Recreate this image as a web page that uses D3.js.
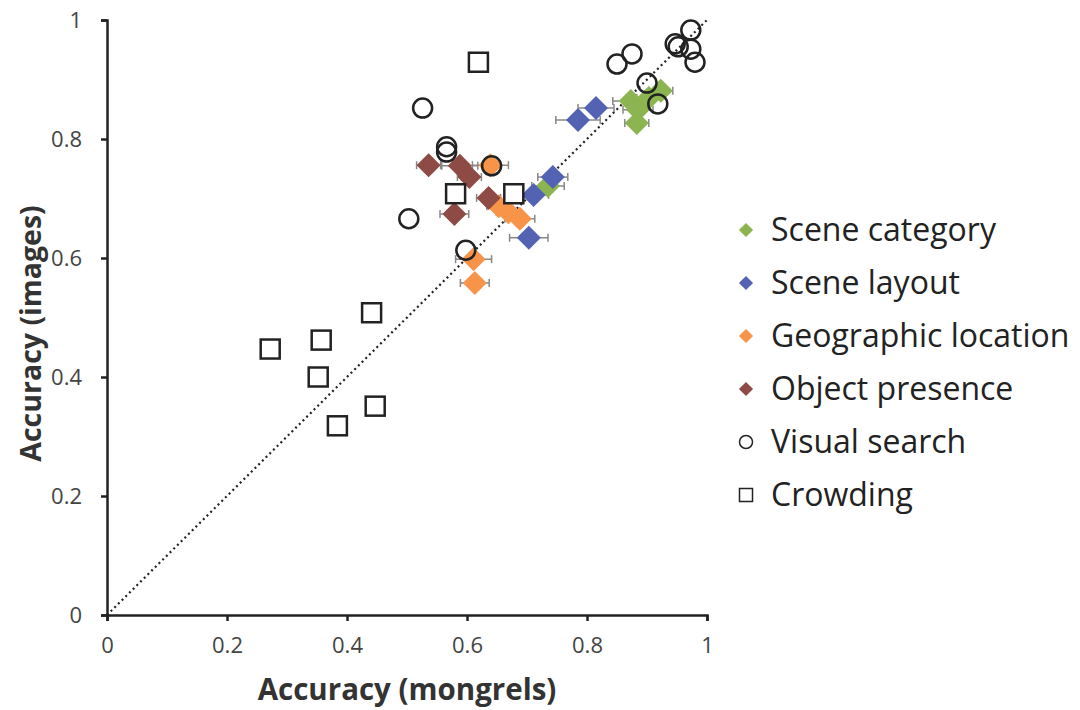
<!DOCTYPE html>
<html>
<head>
<meta charset="utf-8">
<script src="https://cdn.jsdelivr.net/npm/d3@7"></script>
<style>
  body { margin: 0; background: #fff; }
  svg { font-family: 'Open Sans', Lato, sans-serif; }
</style>
</head>
<body>
<script>
// Data (accuracy on mongrels vs images)
const SERIES = ['Scene category', 'Scene layout', 'Geographic location', 'Object presence', 'Visual search', 'Crowding']
const SHAPES = ['diamond', 'diamond', 'diamond', 'diamond', 'circle', 'square']
const COLORS = ['#8cb450', '#5462b4', '#f7944a', '#8e4b46', '#222', '#222']
const TICKS = [0, 0.2, 0.4, 0.6, 0.8, 1]

const sceneCategoryX = [0.735, 0.873, 0.885, 0.903, 0.923, 0.883]
const sceneCategoryY = [0.721, 0.864, 0.849, 0.869, 0.881, 0.827]
const sceneCategoryErr = [0.027, 0.03, 0.025, 0.02, 0.02, 0.02]

const sceneLayoutX = [0.815, 0.785, 0.743, 0.711, 0.703]
const sceneLayoutY = [0.852, 0.832, 0.736, 0.706, 0.634]
const sceneLayoutErr = [0.03, 0.037, 0.025, 0.025, 0.032]

const geoX = [0.639, 0.653, 0.669, 0.688, 0.611, 0.613]
const geoY = [0.756, 0.687, 0.677, 0.666, 0.598, 0.558]
const geoErr = [0.03, 0.02, 0.02, 0.025, 0.03, 0.024]

const objectX = [0.536, 0.588, 0.604, 0.636, 0.579]
const objectY = [0.756, 0.755, 0.736, 0.701, 0.674]
const objectErr = [0.02, 0.03, 0.02, 0.02, 0.024]

const searchX = [0.526, 0.566, 0.566, 0.503, 0.598, 0.641, 0.850, 0.875, 0.900, 0.918, 0.947, 0.952, 0.973, 0.973, 0.980]
const searchY = [0.852, 0.787, 0.778, 0.666, 0.613, 0.755, 0.926, 0.943, 0.894, 0.859, 0.960, 0.955, 0.983, 0.951, 0.929]

const crowdingX = [0.619, 0.581, 0.678, 0.441, 0.272, 0.357, 0.352, 0.447, 0.384]
const crowdingY = [0.929, 0.708, 0.708, 0.508, 0.447, 0.462, 0.400, 0.351, 0.318]

const xs = [sceneCategoryX, sceneLayoutX, geoX, objectX, searchX, crowdingX]
const ys = [sceneCategoryY, sceneLayoutY, geoY, objectY, searchY, crowdingY]
const errs = [sceneCategoryErr, sceneLayoutErr, geoErr, objectErr, null, null]

// Build point table
const points = []
SERIES.forEach((name, s) => {
  xs[s].forEach((x, i) => {
    points.push({ series: s, x: x, y: ys[s][i], err: errs[s] ? errs[s][i] : 0 })
  })
})

// Initialization
const width = 1080
const height = 710
const margin = { left: 107, right: 374, top: 20, bottom: 95 }

const svg = d3.select('body').append('svg')
  .attr('width', width)
  .attr('height', height)

const x = d3.scaleLinear().domain([0, 1]).range([margin.left, width - margin.right + 1])
const y = d3.scaleLinear().domain([0, 1]).range([height - margin.bottom, margin.top])

// Diagonal
svg.append('line')
  .attr('x1', x(0)).attr('y1', y(0))
  .attr('x2', x(1)).attr('y2', y(1))
  .attr('stroke', '#222')
  .attr('stroke-width', 2.2)
  .attr('stroke-dasharray', '2 3.2')

// Axes
const xAxis = svg.append('g')
  .attr('transform', `translate(0,${y(0)})`)
  .call(d3.axisBottom(x).tickValues(TICKS).tickFormat(d3.format('')).tickSize(6).tickPadding(16))
const yAxis = svg.append('g')
  .attr('transform', `translate(${x(0)},0)`)
  .call(d3.axisLeft(y).tickValues(TICKS).tickFormat(d3.format('')).tickSize(6).tickPadding(19))

;[xAxis, yAxis].forEach(g => {
  g.select('.domain').attr('stroke', '#222').attr('stroke-width', 2.5)
  g.selectAll('.tick line').attr('stroke', '#222').attr('stroke-width', 2.5)
  g.selectAll('.tick text').attr('fill', '#444').style('font-size', '22px').style('font-family', "'Open Sans', sans-serif")
})

// Axis titles
svg.append('text')
  .attr('x', x(0.5))
  .attr('y', 700)
  .attr('text-anchor', 'middle')
  .style('font-size', '29.5px')
  .style('font-weight', 'bold')
  .attr('fill', '#333')
  .text('Accuracy (mongrels)')

svg.append('text')
  .attr('transform', `translate(41,${y(0.5) + 16}) rotate(-90)`)
  .attr('text-anchor', 'middle')
  .style('font-size', '28.5px')
  .style('font-weight', 'bold')
  .attr('fill', '#333')
  .text('Accuracy (images)')

// Error bars
const bars = svg.append('g')
  .selectAll('g')
  .data(points.filter(d => d.err > 0))
  .enter()
  .append('g')
  .attr('stroke', '#888')
  .attr('stroke-width', 1.5)
bars.append('line')
  .attr('x1', d => x(d.x - d.err)).attr('x2', d => x(d.x + d.err))
  .attr('y1', d => y(d.y)).attr('y2', d => y(d.y))
bars.append('line')
  .attr('x1', d => x(d.x - d.err)).attr('x2', d => x(d.x - d.err))
  .attr('y1', d => y(d.y) - 4).attr('y2', d => y(d.y) + 4)
bars.append('line')
  .attr('x1', d => x(d.x + d.err)).attr('x2', d => x(d.x + d.err))
  .attr('y1', d => y(d.y) - 4).attr('y2', d => y(d.y) + 4)

// Markers
function marker(sel, shape, color, size) {
  if (shape === 'diamond') {
    sel.append('path')
      .attr('d', d3.symbol(d3.symbolSquare, size * size).call())
      .attr('transform', 'rotate(45)')
      .attr('fill', color)
  } else if (shape === 'circle') {
    sel.append('circle')
      .attr('r', size / 2)
      .attr('fill', 'none')
      .attr('stroke', color)
      .attr('stroke-width', 2.5)
  } else {
    sel.append('rect')
      .attr('x', -size / 2).attr('y', -size / 2)
      .attr('width', size).attr('height', size)
      .attr('fill', '#fff')
      .attr('stroke', color)
      .attr('stroke-width', 2.5)
  }
}

const order = [0, 1, 2, 3, 5, 4]
order.forEach(s => {
  svg.append('g')
    .selectAll('g')
    .data(points.filter(d => d.series === s))
    .enter()
    .append('g')
    .attr('transform', d => `translate(${x(d.x)},${y(d.y)})`)
    .each(function () {
      marker(d3.select(this), SHAPES[s], COLORS[s], SHAPES[s] === 'diamond' ? 17 : 19)
    })
})

// Legend
const legend = svg.append('g')
  .attr('transform', 'translate(746,230)')
SERIES.forEach((name, i) => {
  const row = legend.append('g')
    .attr('transform', `translate(0,${i * 53})`)
  marker(row, SHAPES[i], COLORS[i], SHAPES[i] === 'diamond' ? 10 : 13)
  row.select('circle, rect').attr('stroke-width', 1.5)
  row.append('text')
    .attr('x', 25)
    .attr('dy', '0.35em')
    .style('font-size', '32px')
    .attr('fill', '#222')
    .text(name)
})
</script>
</body>
</html>
